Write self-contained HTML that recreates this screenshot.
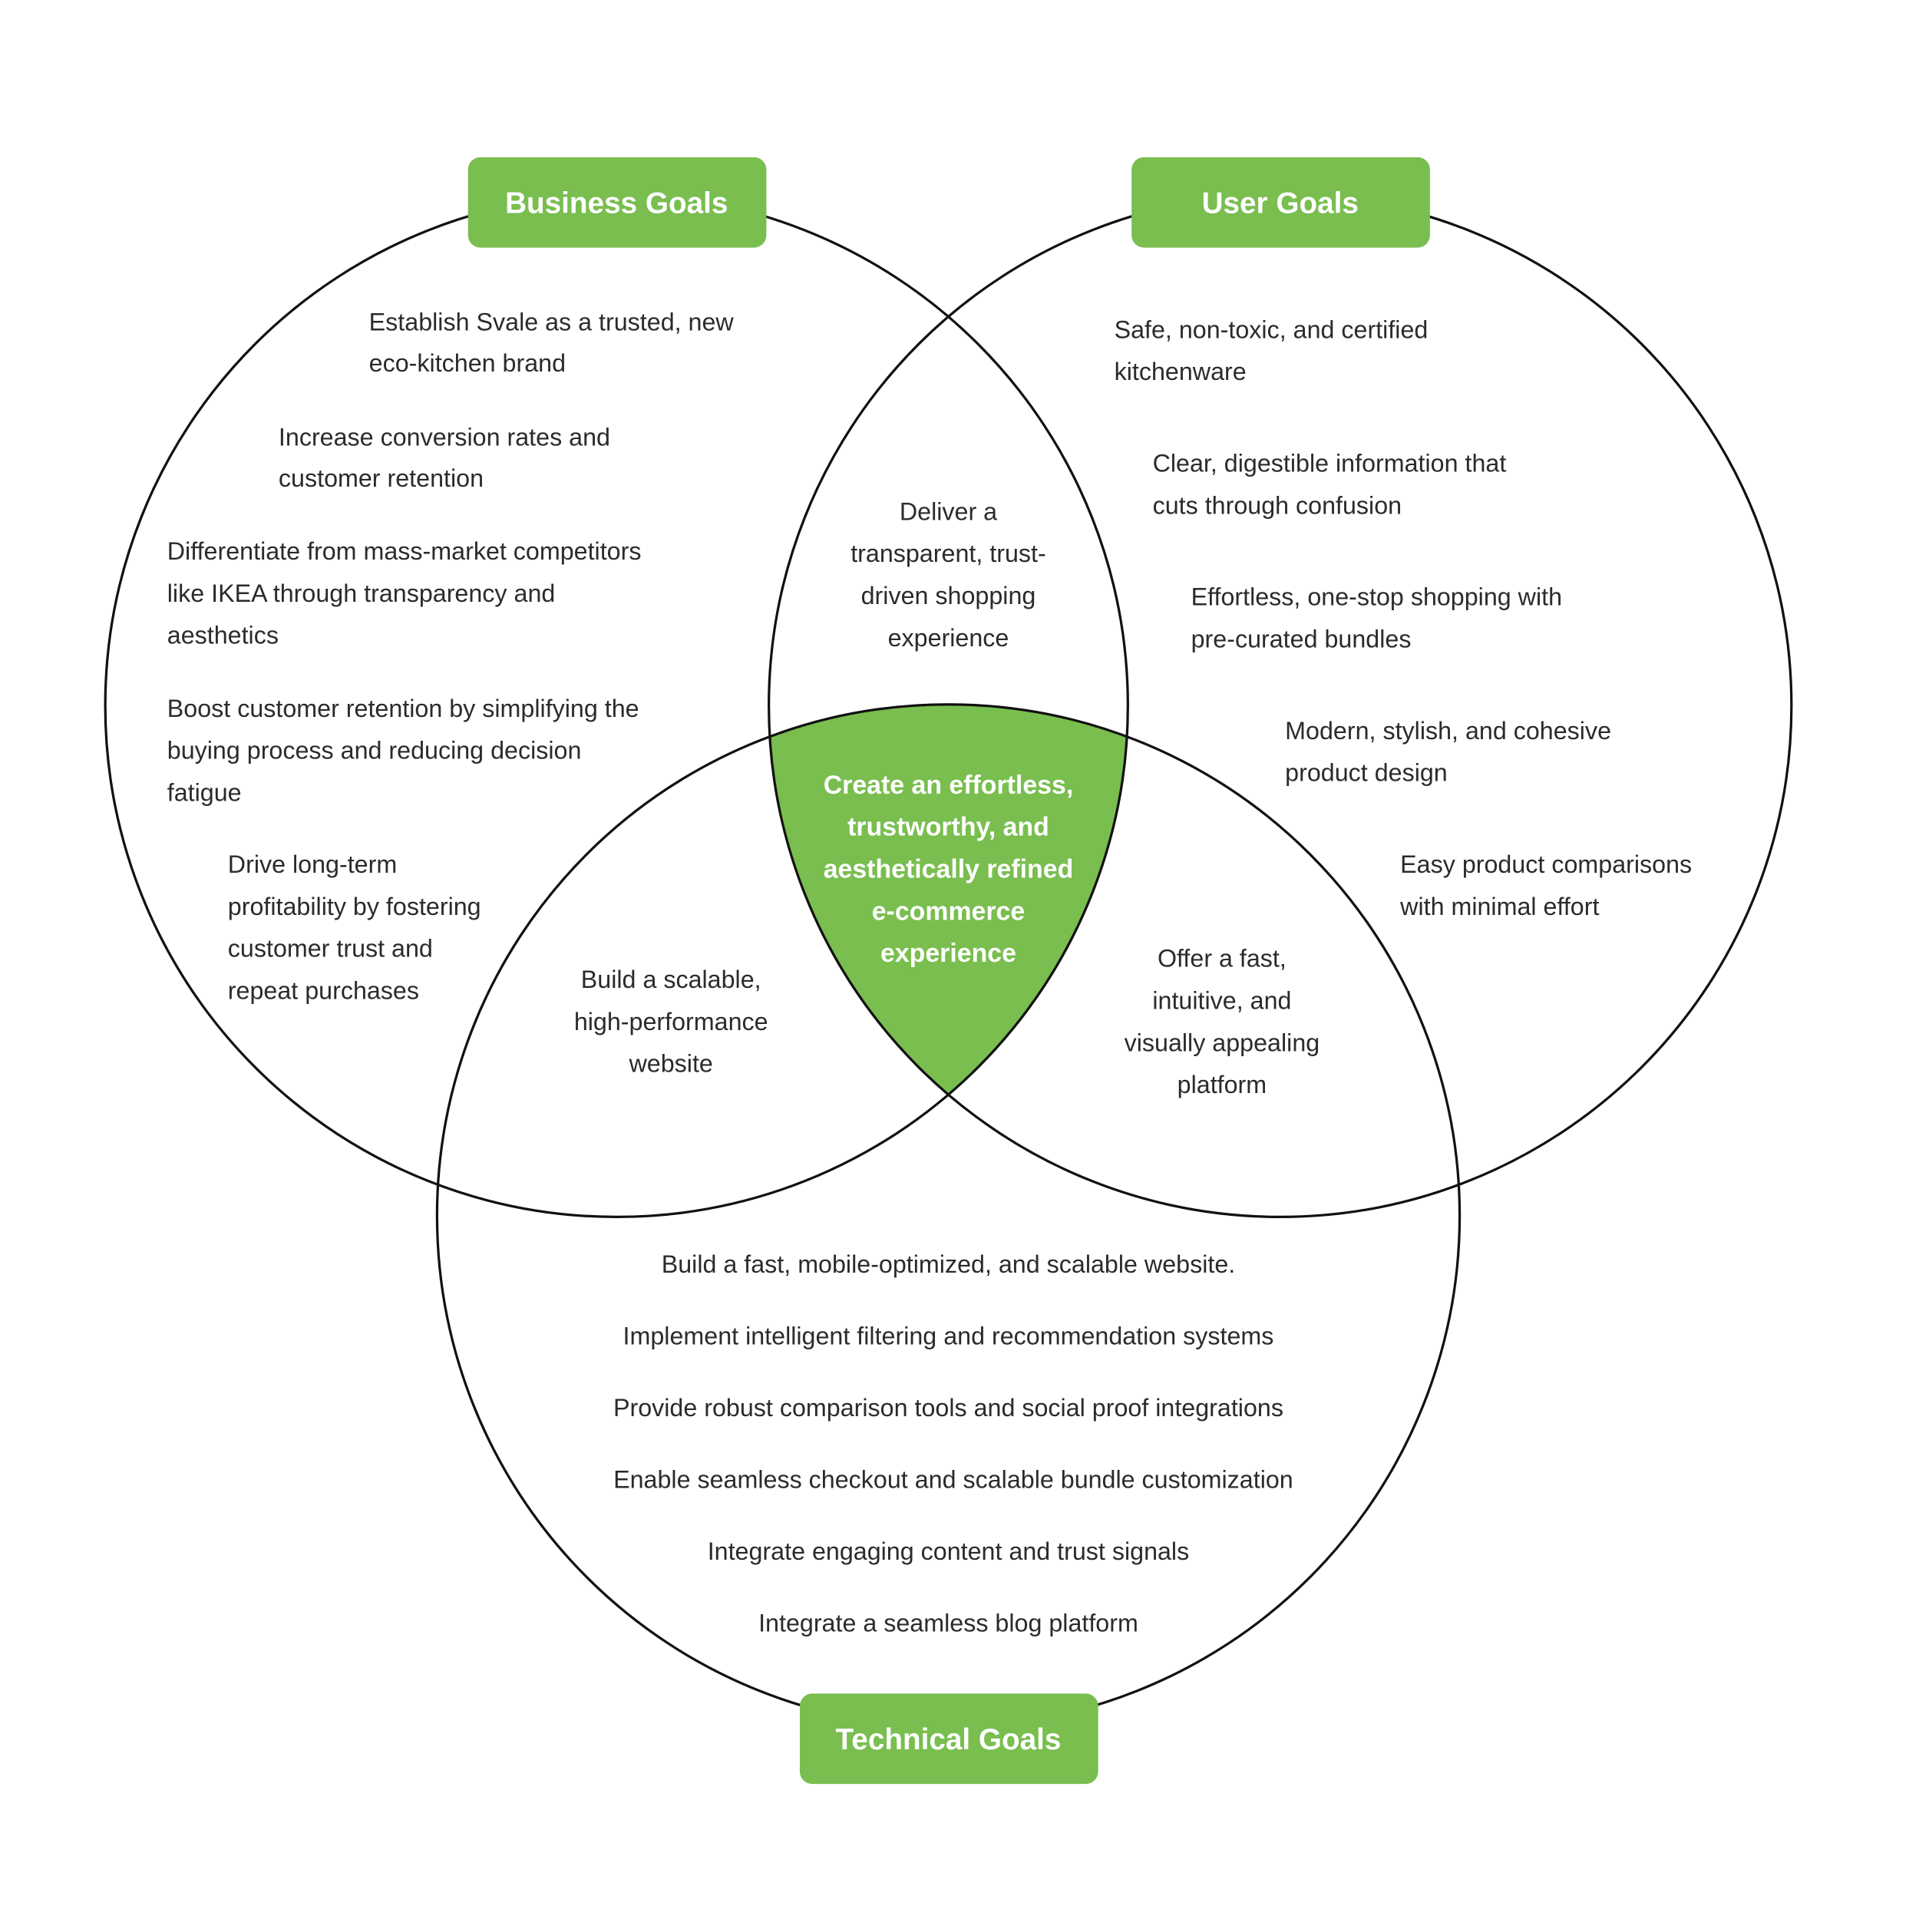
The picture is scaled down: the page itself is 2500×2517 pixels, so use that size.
<!DOCTYPE html>
<html><head><meta charset="utf-8"><style>
html,body{margin:0;padding:0;background:#fff}
svg{display:block}
text{font-family:"Liberation Sans",sans-serif}
.b{font-size:20px;fill:#2b2b2b}
.c{text-anchor:middle}
.w{font-size:21px;font-weight:bold;fill:#fff;text-anchor:middle}
.t{font-size:24px;font-weight:bold;fill:#fff;text-anchor:middle}
</style></head><body>
<svg width="2500" height="2517" viewBox="0 0 1550 1560.6" xmlns="http://www.w3.org/2000/svg">
<rect width="1550" height="1561" fill="#fff"/>
<path d="M622 595 A413 413 0 0 1 910 595 A413 413 0 0 1 766 884 A413 413 0 0 1 622 595 Z" fill="#79be4f"/>
<g fill="none" stroke="#111" stroke-width="2">
<circle cx="498" cy="570" r="413"/>
<circle cx="1034" cy="570" r="413"/>
<circle cx="766" cy="982" r="413"/>
</g>
<rect x="378" y="127" width="241" height="73" rx="10" fill="#79be4f"/>
<text class="t" x="498" y="172">Business Goals</text>
<rect x="914" y="127" width="241" height="73" rx="10" fill="#79be4f"/>
<text class="t" x="1034" y="172">User Goals</text>
<rect x="646" y="1368" width="241" height="73" rx="10" fill="#79be4f"/>
<text class="t" x="766" y="1413">Technical Goals</text>

<g class="b">
<text x="298" y="267">Establish Svale as a trusted, new</text>
<text x="298" y="300">eco-kitchen brand</text>
<text x="225" y="360">Increase conversion rates and</text>
<text x="225" y="393">customer retention</text>
<text x="135" y="452">Differentiate from mass-market competitors</text>
<text x="135" y="486">like IKEA through transparency and</text>
<text x="135" y="520">aesthetics</text>
<text x="135" y="579">Boost customer retention by simplifying the</text>
<text x="135" y="613">buying process and reducing decision</text>
<text x="135" y="647">fatigue</text>
<text x="184" y="705">Drive long-term</text>
<text x="184" y="739">profitability by fostering</text>
<text x="184" y="773">customer trust and</text>
<text x="184" y="807">repeat purchases</text>

<text x="900" y="273">Safe, non-toxic, and certified</text>
<text x="900" y="307">kitchenware</text>
<text x="931" y="381">Clear, digestible information that</text>
<text x="931" y="415">cuts through confusion</text>
<text x="962" y="489">Effortless, one-stop shopping with</text>
<text x="962" y="523">pre-curated bundles</text>
<text x="1038" y="597">Modern, stylish, and cohesive</text>
<text x="1038" y="631">product design</text>
<text x="1131" y="705">Easy product comparisons</text>
<text x="1131" y="739">with minimal effort</text>

<g class="c">
<text x="766" y="420">Deliver a</text>
<text x="766" y="454">transparent, trust-</text>
<text x="766" y="488">driven shopping</text>
<text x="766" y="522">experience</text>
<text x="542" y="798">Build a scalable,</text>
<text x="542" y="832">high-performance</text>
<text x="542" y="866">website</text>
<text x="987" y="781">Offer a fast,</text>
<text x="987" y="815">intuitive, and</text>
<text x="987" y="849">visually appealing</text>
<text x="987" y="883">platform</text>
<text x="766" y="1028">Build a fast, mobile-optimized, and scalable website.</text>
<text x="766" y="1086">Implement intelligent filtering and recommendation systems</text>
<text x="766" y="1144">Provide robust comparison tools and social proof integrations</text>
<text x="770" y="1202">Enable seamless checkout and scalable bundle customization</text>
<text x="766" y="1260">Integrate engaging content and trust signals</text>
<text x="766" y="1318">Integrate a seamless blog platform</text>
</g>
</g>
<text class="w" x="766" y="641">Create an effortless,</text>
<text class="w" x="766" y="675">trustworthy, and</text>
<text class="w" x="766" y="709">aesthetically refined</text>
<text class="w" x="766" y="743">e-commerce</text>
<text class="w" x="766" y="777">experience</text>
</svg>
</body></html>
